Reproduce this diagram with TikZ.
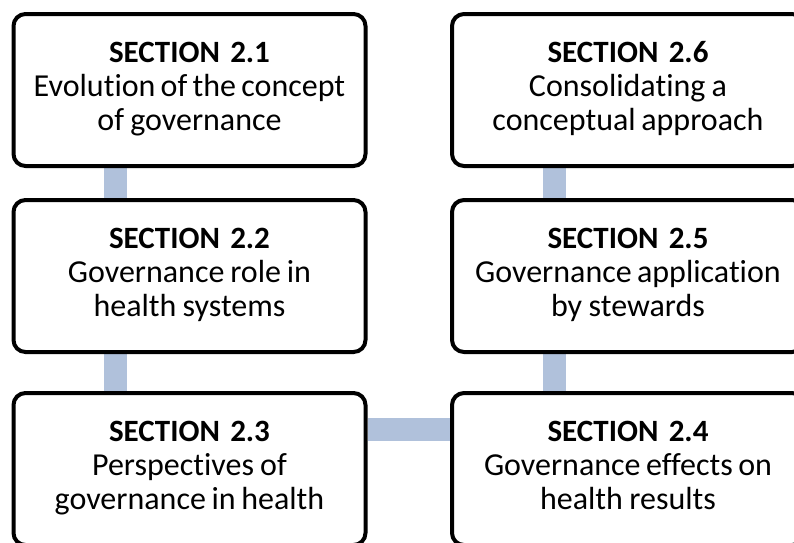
\documentclass[tikz,border=0pt]{standalone}
\usepackage{fontspec}
\setmainfont{Carlito}[Ligatures=NoCommon]
\usepackage{tikz}
\usetikzlibrary{backgrounds}

\definecolor{linkblue}{RGB}{176,193,219}
\newcommand{\secttext}[3]{\strut\textbf{SECTION #1}\\
    \fontsize{32}{34}\selectfont\spaceskip=5pt plus 1pt\relax #2\\#3\strut}

\begin{document}
\begin{tikzpicture}[x=1pt, y=-1pt,
    secbox/.style={draw=black, fill=white, line width=4pt, rounded corners=12pt,
        minimum width=352pt, minimum height=152pt, text width=345pt, align=center,
        inner sep=0pt, font=\fontsize{31}{34}\selectfont},
    link/.style={draw=linkblue, line width=23pt}]
    % fix page size
    \useasboundingbox (0,0) rectangle (794,542);

    % draw section boxes, left column top to bottom
    \node[secbox] (s21) at (189.5, 90)  {\secttext{2.1}{Evolution of the concept}{of governance}};
    \node[secbox] (s22) at (189.5, 276) {\secttext{2.2}{Governance role in}{health systems}};
    \node[secbox] (s23) at (189.5, 469) {\secttext{2.3}{Perspectives of}{governance in health}};

    % draw section boxes, right column bottom to top
    \node[secbox] (s24) at (628, 469) {\secttext{2.4}{Governance effects on}{health results}};
    \node[secbox] (s25) at (628, 276) {\secttext{2.5}{Governance application}{by stewards}};
    \node[secbox] (s26) at (628, 90)  {\secttext{2.6}{Consolidating a}{conceptual approach}};

    % draw white page and connecting bars behind the boxes
    \begin{scope}[on background layer]
        \fill[white] (0,0) rectangle (794,542);
        \draw[link] ([xshift=-74pt]s21.south) -- ([xshift=-74pt]s22.north);
        \draw[link] ([xshift=-74pt]s22.south) -- ([xshift=-74pt]s23.north);
        \draw[link] ([yshift=40pt]s23.east) -- ([yshift=40pt]s24.west);
        \draw[link] ([xshift=-74pt]s24.north) -- ([xshift=-74pt]s25.south);
        \draw[link] ([xshift=-74pt]s25.north) -- ([xshift=-74pt]s26.south);
    \end{scope}
\end{tikzpicture}
\end{document}
